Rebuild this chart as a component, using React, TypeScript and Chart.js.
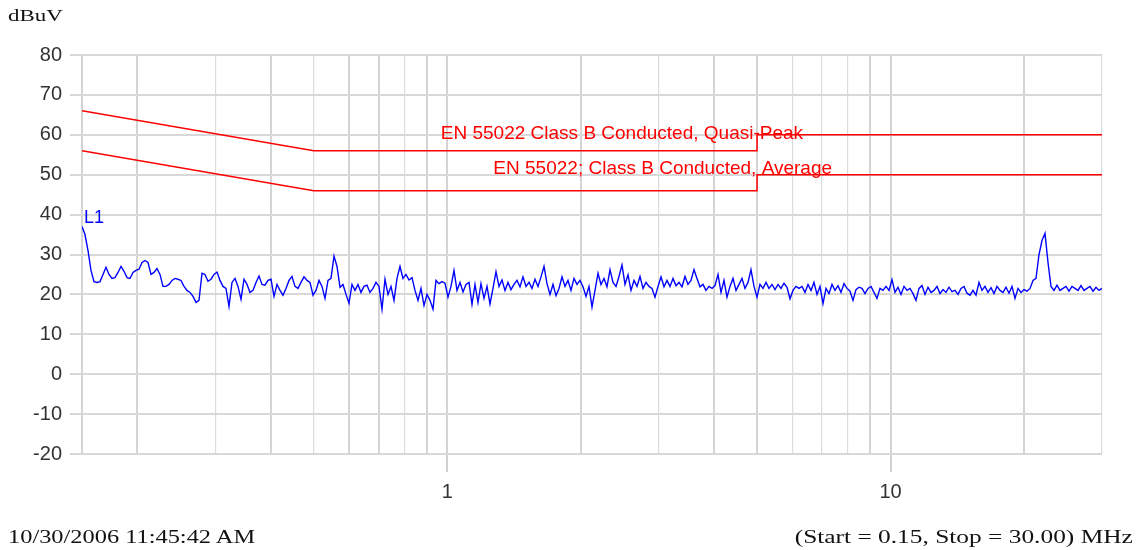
import React, { useEffect, useRef } from "react";
import { Chart, registerables } from "chart.js";

Chart.register(...registerables);

const START_MHZ = 0.15;
const STOP_MHZ = 30;
const GRID_FREQS = [0.15, 0.2, 0.3, 0.4, 0.5, 0.6, 0.7, 0.8, 0.9, 1, 2, 3, 4, 5, 6, 7, 8, 9, 10, 20, 30];
const LABELED_FREQS = [1, 10];
const THIN_GRID_FREQS = [0.3, 0.5, 0.8, 3, 6, 7, 8, 30];

const QP_FREQS = [0.15, 0.5, 5, 5, 30];
const QP_LIMIT = [66, 56, 56, 60, 60];
const AVG_FREQS = [0.15, 0.5, 5, 5, 30];
const AVG_LIMIT = [56, 46, 46, 50, 50];
const QP_LABEL = "EN 55022 Class B Conducted, Quasi-Peak";
const AVG_LABEL = "EN 55022; Class B Conducted, Average";

// L1 sweep readings (dBuV), log-spaced sweep from START_MHZ to STOP_MHZ
const L1_LOW = [
  37, 35, 31, 26, 23.2, 23, 23.2, 25, 26.8, 25, 24, 24.2, 25.5, 27, 25.8, 24.2, 24, 25.5, 26, 26.3,
  28, 28.5, 28, 25, 25.5, 26.5, 25, 22, 22, 22.5, 23.5, 24, 23.8, 23.5, 22, 21, 20.5, 19.5, 18, 18.5,
];
const L1_MIDLOW = [
  25.3, 25, 23.3, 23.8, 25, 25.6, 23.5, 22, 21.5, 17, 23, 24, 22, 18.8, 23.8, 22.5, 20.5, 21, 23, 24.6,
  22.5, 22.3, 23.5, 23.8, 19.5, 22.5, 21, 19.8, 21.5, 23.5, 24.5, 22, 21.5, 23, 24.4, 23.5, 23, 19.8, 21, 23.5,
  22, 19, 23.5, 24, 29.6, 27, 21.8, 22.5, 20, 17.8, 22.5, 21, 22.5, 20.5, 22, 22.3, 20.5, 21.5, 23, 22,
  16.3, 23.8, 20, 22, 18.5, 24, 27,
];
const L1_MID = [
  24, 25, 23.6, 24.2, 21, 18.5, 21.5, 17.2, 20, 18.5, 16.3, 23.5, 22.7, 23.2, 22.8, 19.3, 22, 26, 21, 23,
  20.6, 22.5, 23, 17.5, 22.5, 18, 22.7, 19, 22, 17.6, 21.5, 25.7, 22, 23.6, 21, 23, 21.2, 22.5, 23.5, 21.9,
  24.4, 22, 23, 21.5, 23.8, 22, 24.4, 27, 22.7, 20, 22.5, 19.7, 21.5, 24.4, 22, 23.5, 21, 24, 22.5, 23.5,
  21.9, 19.5, 22, 16.8, 21, 25.3, 22.5, 24, 21.9, 26.2, 23, 22, 24.5, 27.4, 22.5, 24.9, 21, 23.5, 22, 24.5,
  21.5, 23, 22, 21.5, 19.3, 22, 24.4, 21.9, 23.5, 22, 24, 22.2, 23, 21.9, 24.5, 22.5, 23.5, 26.2, 24, 21.9,
  22.5, 21, 22, 21.5, 22.2, 25, 20.5, 23.5, 19.3, 22, 24, 21, 22.5, 24, 21.5, 23, 26.2, 22, 19.3, 22.5,
  21.5, 23, 21.5, 22.5, 21.2, 22.5, 21.5, 22.8, 21.8, 18.9, 21, 22, 21.5,
];
const L1_HIGH = [
  22, 20.5, 22.5, 21, 23, 20, 22, 17.7, 21.5, 20.2, 22.5, 21, 22.2, 20.5, 22.7, 21.5, 20.8, 18.5, 21.2, 21.8,
  21.5, 20.2, 21.5, 22, 20.5, 19, 21.5, 21, 22, 21, 23.7, 20.5, 21.8, 20, 22, 21, 21.5, 20.2, 18.5, 21.5,
  22.2, 20, 21.8, 20.5, 21, 22, 20.2, 21.2, 20.5, 21.8, 20.7, 21, 20, 21.5, 22, 20.3, 19.8, 21, 19.8, 23,
  21, 22, 20.5, 21.7, 20.2, 22, 21, 20.5, 21.8, 20.3, 22, 19, 21.5, 20.5, 21.2, 20.8, 21.5, 23.5, 24, 30,
  33.5, 35.3, 28, 22, 21, 22.3, 21, 21.5, 22, 20.8, 22, 21.5, 21, 22.2, 21, 21.5, 22, 20.8, 21.8, 21,
  21.5,
];
const L1_VALUES = [...L1_LOW, ...L1_MIDLOW, ...L1_MID, ...L1_HIGH];

const SANS = '"Liberation Sans", Arial, sans-serif';
const SERIF = '"Liberation Serif", "Times New Roman", serif';

const labelPlugin = {
  id: "limitLabels",
  afterDatasetsDraw(chart: any) {
    const { ctx } = chart;
    const x = chart.scales.x;
    const y = chart.scales.y;
    ctx.save();
    ctx.font = `19px ${SANS}`;
    ctx.fillStyle = "#ff0000";
    ctx.textAlign = "right";
    ctx.textBaseline = "alphabetic";
    ctx.fillText(QP_LABEL, x.getPixelForValue(5) + 46, y.getPixelForValue(60) + 4);
    ctx.fillText(AVG_LABEL, x.getPixelForValue(5) + 75, y.getPixelForValue(50) - 1);
    ctx.fillStyle = "#0000ff";
    ctx.textAlign = "left";
    ctx.font = `18px ${SANS}`;
    ctx.fillText("L1", x.getPixelForValue(START_MHZ) + 2, y.getPixelForValue(L1_VALUES[0]) - 4);
    ctx.restore();
  },
};

export default function App() {
  const ref = useRef<HTMLCanvasElement | null>(null);

  useEffect(() => {
    if (!ref.current) return;
    const n = L1_VALUES.length;
    const ratio = STOP_MHZ / START_MHZ;
    const l1Points = L1_VALUES.map((v, i) => ({
      x: START_MHZ * Math.pow(ratio, i / (n - 1)),
      y: v,
    }));
    const qpPoints = QP_FREQS.map((f, i) => ({ x: f, y: QP_LIMIT[i] }));
    const avgPoints = AVG_FREQS.map((f, i) => ({ x: f, y: AVG_LIMIT[i] }));

    const chart = new Chart(ref.current, {
      type: "line",
      data: {
        datasets: [
          {
            label: "QP",
            data: qpPoints,
            borderColor: "#ff0000",
            borderWidth: 1.5,
            pointRadius: 0,
            fill: false,
            tension: 0,
          },
          {
            label: "AVG",
            data: avgPoints,
            borderColor: "#ff0000",
            borderWidth: 1.5,
            pointRadius: 0,
            fill: false,
            tension: 0,
          },
          {
            label: "L1",
            data: l1Points,
            borderColor: "#0000ff",
            borderWidth: 1.4,
            pointRadius: 0,
            fill: false,
            tension: 0,
          },
        ],
      },
      options: {
        responsive: false,
        animation: false,
        devicePixelRatio: 1,
        layout: { padding: { top: 55, right: 46, left: 0, bottom: 0 } },
        plugins: {
          legend: { display: false },
          tooltip: { enabled: false },
          title: { display: false },
        },
        scales: {
          x: {
            type: "logarithmic",
            min: START_MHZ,
            max: STOP_MHZ,
            afterBuildTicks: (scale: any) => {
              scale.ticks = GRID_FREQS.map((v) => ({ value: v }));
            },
            afterFit: (scale: any) => {
              scale.height = 96;
            },
            border: { display: false },
            grid: {
              color: (c: any) => (THIN_GRID_FREQS.includes(c.tick?.value) ? "#dcdcdc" : "#d4d4d4"),
              lineWidth: (c: any) => (THIN_GRID_FREQS.includes(c.tick?.value) ? 1.2 : 2),
              tickColor: (c: any) => (LABELED_FREQS.includes(c.tick?.value) ? "#d0d0d0" : "rgba(0,0,0,0)"),
              tickLength: 18,
              tickWidth: 2,
            },
            ticks: {
              autoSkip: false,
              maxRotation: 0,
              minRotation: 0,
              padding: 8,
              color: "#333333",
              font: { family: SANS, size: 20 },
              callback: (v: any) => (LABELED_FREQS.includes(Number(v)) ? String(v) : ""),
            },
          },
          y: {
            type: "linear",
            min: -20,
            max: 80,
            afterFit: (scale: any) => {
              scale.width = 82;
            },
            border: { display: false },
            grid: {
              color: "#d8d8d8",
              lineWidth: 2,
              tickLength: 12,
            },
            ticks: {
              stepSize: 10,
              padding: 8,
              color: "#333333",
              font: { family: SANS, size: 20 },
            },
          },
        },
      },
      plugins: [labelPlugin],
    } as any);
    return () => chart.destroy();
  }, []);

  const serif: React.CSSProperties = {
    position: "absolute",
    fontFamily: SERIF,
    fontSize: 18,
    color: "#111",
    whiteSpace: "nowrap",
    lineHeight: "20px",
  };

  return (
    <div style={{ position: "absolute", left: 0, top: 0, width: 1148, height: 550, background: "#fff" }}>
      <canvas ref={ref} width={1148} height={550} style={{ position: "absolute", left: 0, top: 0 }} />
      <div style={{ ...serif, fontSize: 17, left: 8, top: 6, transform: "scaleX(1.35)", transformOrigin: "left center" }}>
        dBuV
      </div>
      <div style={{ ...serif, left: 8, top: 527, transform: "scaleX(1.355)", transformOrigin: "left center" }}>
        10/30/2006 11:45:42 AM
      </div>
      <div style={{ ...serif, right: 15, top: 527, transform: "scaleX(1.41)", transformOrigin: "right center" }}>
        (Start = 0.15, Stop = 30.00) MHz
      </div>
    </div>
  );
}
